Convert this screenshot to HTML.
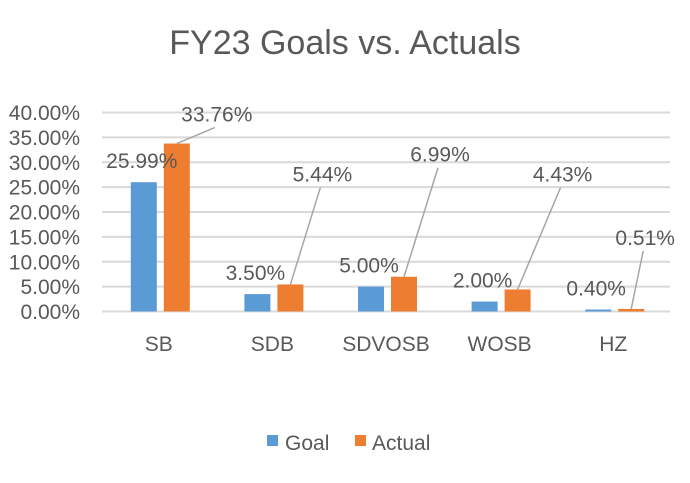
<!DOCTYPE html>
<html><head><meta charset="utf-8"><style>
body{margin:0;background:#fff}
svg text{font-family:"Liberation Sans",sans-serif;fill:#595959}
</style></head><body>
<svg id="c" width="690" height="478" xmlns="http://www.w3.org/2000/svg">
<text x="345" y="54" font-size="34" text-anchor="middle">FY23 Goals vs. Actuals</text>
<g id="grid"></g><g id="bars"></g><g id="labels"></g>
<g>
<rect x="267" y="435" width="11" height="11" fill="#5b9bd5"/>
<text x="285" y="450" font-size="21">Goal</text>
<rect x="355" y="435" width="11" height="11" fill="#ed7d31"/>
<text x="372" y="450" font-size="21">Actual</text>
</g>
</svg>
<script>
const categories=["SB","SDB","SDVOSB","WOSB","HZ"];
const goals=[25.99,3.50,5.00,2.00,0.40];
const actuals=[33.76,5.44,6.99,4.43,0.51];
const ticks=[0,5,10,15,20,25,30,35,40];
const tickLabels=["0.00%","5.00%","10.00%","15.00%","20.00%","25.00%","30.00%","35.00%","40.00%"];
// layout offsets for actual-value callout labels (pixels)
const calloutOffsets=[[40,-22],[32,-103],[36,-115],[45,-108],[14,-64]];
const NS="http://www.w3.org/2000/svg";
const x0=102,x1=670,y0=311.5,y1=112.5,ymax=40;
const y=v=>y0-(v/ymax)*(y0-y1);
const bw=(x1-x0)/categories.length;
function el(t,a,p){const e=document.createElementNS(NS,t);for(const k in a)e.setAttribute(k,a[k]);document.getElementById(p).appendChild(e);return e;}
ticks.forEach((t,i)=>{
 const l=el('line',{x1:x0,x2:x1,y1:y(t),y2:y(t),stroke:'#d9d9d9','stroke-width':2},'grid');
 
 
 const tx=el('text',{x:80,y:y(t)+7.5,'font-size':21,'text-anchor':'end'},'grid');
 tx.textContent=tickLabels[i];
 
 
});
categories.forEach((c,i)=>{
 const cx=x0+bw*(i+0.5);
 const gx=cx-28,ax=cx+5,w=26;
 const g=el('rect',{x:gx,y:y(goals[i]),width:w,height:y0-y(goals[i]),fill:'#5b9bd5'},'bars');
 
 
 const a=el('rect',{x:ax,y:y(actuals[i]),width:w,height:y0-y(actuals[i]),fill:'#ed7d31'},'bars');
 
 
 const gl=el('text',{x:gx+w/2-2,y:y(goals[i])-14,'font-size':21,'text-anchor':'middle'},'labels');
 gl.textContent=goals[i].toFixed(2)+'%';
 
 
 const lx=ax+w/2+calloutOffsets[i][0],ly=y(actuals[i])+calloutOffsets[i][1];
 const ln=el('line',{x1:lx-2,y1:ly+6,x2:ax+w/2,y2:y(actuals[i]),stroke:'#a6a6a6','stroke-width':1.5},'labels');
 
 
 const al=el('text',{x:lx,y:ly,'font-size':21,'text-anchor':'middle'},'labels');
 al.textContent=actuals[i].toFixed(2)+'%';
 
 
 const xl=el('text',{x:cx,y:351,'font-size':21,'text-anchor':'middle'},'labels');
 xl.textContent=c;
 
 
});
</script>
</body></html>
